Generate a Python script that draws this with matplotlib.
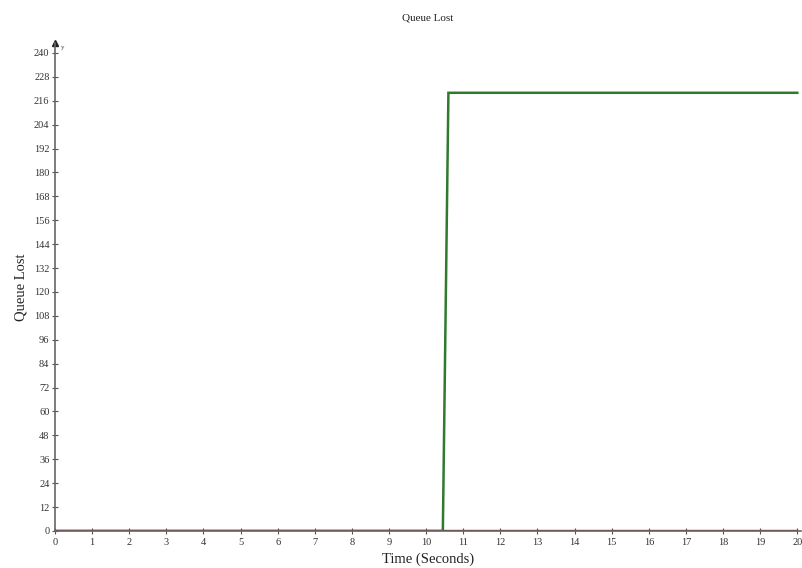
import matplotlib
matplotlib.use("Agg")
import matplotlib.pyplot as plt
import numpy as np

# Queue loss over the simulation run
time_green = [0.0, 10.45, 10.6, 20.0]
lost_green = [0.0, 0.0, 220.0, 220.0]
time_red = [0.0, 20.0]
lost_red = [0.0, 0.0]

x_ticks = list(range(0, 21))
y_ticks = list(range(0, 241, 12))

plt.rcParams['font.family'] = ['Liberation Serif', 'DejaVu Serif']

fig = plt.figure(figsize=(8.03, 5.68), dpi=100)
ax = fig.add_axes([55 / 803, 37 / 568, 746 / 803, 488 / 568])

ax.plot(time_green, lost_green, color='#2f7a2f', lw=1.8, solid_joinstyle='miter')
ax.plot(time_red, lost_red, color='#a3191c', lw=1.7)

ax.set_xlim(0, 20.1)
ax.set_ylim(0, 245)
ax.set_xticks(x_ticks)
ax.set_yticks(y_ticks)
ax.set_xticklabels([str(v) for v in x_ticks], fontsize=7.5)
ax.set_yticklabels([str(v) for v in y_ticks], fontsize=7.5)
ax.tick_params(direction='inout', length=4, width=0.8, colors='#555555',
               labelcolor='#333333')
ax.tick_params(axis='x', pad=3)
ax.tick_params(axis='y', pad=2)

for side in ('top', 'right'):
    ax.spines[side].set_visible(False)
for side in ('left', 'bottom'):
    ax.spines[side].set_color('#666666')
    ax.spines[side].set_linewidth(1.2)

# arrow heads on the axes
ax.plot(0, 1, marker='^', color='#222222', ms=5, transform=ax.transAxes, clip_on=False)
ax.text(0.008, 0.995, 'y', transform=ax.transAxes, fontsize=5, va='top', color='#333333')

ax.set_title('Queue Lost', fontsize=8, pad=16, color='#222222')
ax.set_xlabel('Time (Seconds)', fontsize=10.5, color='#222222')
ax.set_ylabel('Queue Lost', fontsize=10.5, color='#222222')
ax.xaxis.set_label_coords(0.5, -0.045)
ax.yaxis.set_label_coords(-0.037, 0.5)

fig.savefig('out.png', dpi=100)
